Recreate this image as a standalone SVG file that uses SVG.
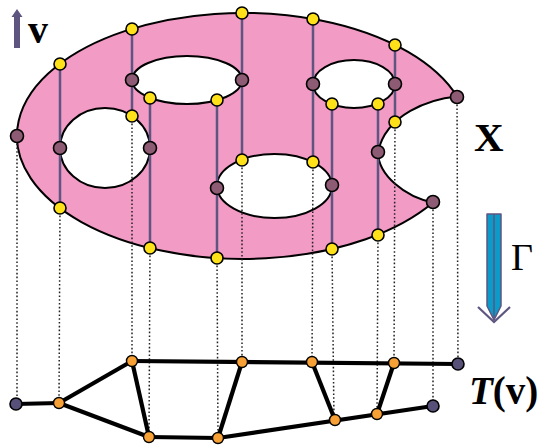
<svg xmlns="http://www.w3.org/2000/svg" width="542" height="445" viewBox="0 0 542 445">
<style>
.shape{fill:#f19bc5;stroke:#000;stroke-width:2}
.hole{fill:#fff;stroke:#000;stroke-width:2}
.pl{stroke:#5f5581;stroke-width:2.5;fill:none}
.dot{stroke:#222;stroke-width:1.5;stroke-dasharray:1.6 2.2;fill:none}
.edge{stroke:#000;stroke-width:4.2;fill:none;stroke-linejoin:round}
.y{fill:#ffe11a;stroke:#000;stroke-width:1.6}
.m{fill:#8e5b74;stroke:#000;stroke-width:1.6}
.o{fill:#f7a035;stroke:#000;stroke-width:1.4}
.d{fill:#575079;stroke:#000;stroke-width:1.6}
.lbl{font-family:"Liberation Serif","Times New Roman",serif;fill:#000}
</style>
<g id="space-X">
<path class="shape" d="M457,96.5 A226,123 0 1 0 433,202.5 C405,197 378,175 378,152 C386,114 430,99 457,96.5 Z"/>
<ellipse class="hole" cx="105" cy="148" rx="45" ry="40"/>
<ellipse class="hole" cx="187" cy="80" rx="55" ry="24"/>
<ellipse class="hole" cx="354" cy="84" rx="41" ry="24"/>
<ellipse class="hole" cx="274.5" cy="186" rx="57.5" ry="32"/>
</g>
<g id="fibres">
<line class="pl" x1="60" y1="64" x2="60" y2="208"/>
<line class="pl" x1="132" y1="29" x2="132" y2="116"/>
<line class="pl" x1="150" y1="98" x2="150" y2="248"/>
<line class="pl" x1="242" y1="13" x2="242" y2="160"/>
<line class="pl" x1="217" y1="100" x2="217" y2="258"/>
<line class="pl" x1="313" y1="19" x2="313" y2="162"/>
<line class="pl" x1="332" y1="104" x2="332" y2="249"/>
<line class="pl" x1="395" y1="45" x2="395" y2="122"/>
<line class="pl" x1="378" y1="104" x2="378" y2="235"/>
</g>
<g id="connectors">
<line class="dot" x1="17" y1="136" x2="17" y2="404"/>
<line class="dot" x1="60" y1="208" x2="59" y2="403"/>
<line class="dot" x1="132" y1="116" x2="132" y2="361"/>
<line class="dot" x1="150" y1="248" x2="149" y2="437"/>
<line class="dot" x1="217" y1="258" x2="218" y2="438"/>
<line class="dot" x1="242" y1="160" x2="242" y2="362"/>
<line class="dot" x1="313" y1="162" x2="312" y2="362"/>
<line class="dot" x1="332" y1="249" x2="334" y2="420"/>
<line class="dot" x1="378" y1="235" x2="377" y2="414"/>
<line class="dot" x1="395" y1="122" x2="394" y2="363"/>
<line class="dot" x1="433" y1="202" x2="433" y2="406"/>
<line class="dot" x1="457" y1="97" x2="458" y2="364"/>
</g>
<g id="graph-edges">
<line class="edge" x1="16" y1="404" x2="59" y2="403"/>
<line class="edge" x1="59" y1="403" x2="132" y2="361"/>
<line class="edge" x1="59" y1="403" x2="149" y2="437"/>
<line class="edge" x1="132" y1="361" x2="458" y2="364"/>
<line class="edge" x1="132" y1="361" x2="149" y2="437"/>
<line class="edge" x1="149" y1="437" x2="218" y2="438"/>
<line class="edge" x1="218" y1="438" x2="242" y2="362"/>
<line class="edge" x1="218" y1="438" x2="433" y2="406"/>
<line class="edge" x1="312" y1="362" x2="335" y2="420"/>
<line class="edge" x1="394" y1="363" x2="377" y2="414"/>
</g>
<g id="nodes-X">
<circle id="x17" class="m" cx="17" cy="136" r="6.5"/>
<circle id="x60a" class="y" cx="60" cy="64" r="6"/>
<circle id="x60b" class="m" cx="60" cy="148" r="6.5"/>
<circle id="x60c" class="y" cx="60" cy="208" r="6"/>
<circle id="x132a" class="y" cx="132" cy="29" r="6"/>
<circle id="x132b" class="m" cx="132" cy="80" r="6.5"/>
<circle id="x132c" class="y" cx="132" cy="116" r="6"/>
<circle id="x150a" class="y" cx="150" cy="98" r="6"/>
<circle id="x150b" class="m" cx="150" cy="148" r="6.5"/>
<circle id="x150c" class="y" cx="150" cy="248" r="6"/>
<circle id="x242a" class="y" cx="242" cy="13" r="6"/>
<circle id="x242b" class="m" cx="242" cy="80" r="6.5"/>
<circle id="x242c" class="y" cx="242" cy="160" r="6"/>
<circle id="x217a" class="y" cx="217" cy="100" r="6"/>
<circle id="x217b" class="m" cx="217" cy="188" r="6.5"/>
<circle id="x217c" class="y" cx="217" cy="258" r="6"/>
<circle id="x313a" class="y" cx="313" cy="19" r="6"/>
<circle id="x313b" class="m" cx="313" cy="84" r="6.5"/>
<circle id="x313c" class="y" cx="313" cy="162" r="6"/>
<circle id="x332a" class="y" cx="332" cy="104" r="6"/>
<circle id="x332b" class="m" cx="332" cy="185" r="6.5"/>
<circle id="x332c" class="y" cx="332" cy="249" r="6"/>
<circle id="x395a" class="y" cx="395" cy="45" r="6"/>
<circle id="x395b" class="m" cx="395" cy="84" r="6.5"/>
<circle id="x395c" class="y" cx="395" cy="122" r="6"/>
<circle id="x378a" class="y" cx="378" cy="104" r="6"/>
<circle id="x378b" class="m" cx="378" cy="152" r="6.5"/>
<circle id="x378c" class="y" cx="378" cy="235" r="6"/>
<circle id="x433" class="m" cx="433" cy="202" r="6.5"/>
<circle id="x457" class="m" cx="457" cy="97" r="6.5"/>
</g>
<g id="nodes-T">
<circle id="t1" class="d" cx="16" cy="404" r="6"/>
<circle id="t2" class="o" cx="59" cy="403" r="5.5"/>
<circle id="t3" class="o" cx="132" cy="361" r="5.5"/>
<circle id="t4" class="o" cx="242" cy="362" r="5.5"/>
<circle id="t5" class="o" cx="312" cy="362" r="5.5"/>
<circle id="t6" class="o" cx="394" cy="363" r="5.5"/>
<circle id="t7" class="d" cx="458" cy="364" r="6"/>
<circle id="t8" class="o" cx="149" cy="437" r="5.5"/>
<circle id="t9" class="o" cx="218" cy="438" r="5.5"/>
<circle id="t10" class="o" cx="335" cy="420" r="5.5"/>
<circle id="t11" class="o" cx="377" cy="414" r="5.5"/>
<circle id="t12" class="d" cx="433" cy="406" r="6"/>
</g>
<g id="v-arrow">
<path d="M14,48 V17 H11.5 L17,9 L22.5,17 H20 V48 Z" fill="#5f5581"/>
<text class="lbl" x="28" y="43" font-size="40" font-weight="bold">v</text>
</g>
<text class="lbl" x="474" y="151" font-size="41" font-weight="bold">X</text>
<g id="gamma-arrow">
<path d="M487,214 H501 V306 L494,320 L487,306 Z" fill="#0b9bc8" stroke="#5f5581" stroke-width="1.5" stroke-linejoin="round"/>
<line x1="494" y1="214" x2="494" y2="318" stroke="#5f5581" stroke-width="1.5"/>
<polyline points="478,307 494,322 510,307" fill="none" stroke="#5f5581" stroke-width="2.2"/>
<text class="lbl" x="511" y="270" font-size="38">Γ</text>
</g>
<text class="lbl" x="469" y="404" font-size="39" font-weight="bold"><tspan font-style="italic">T</tspan>(v)</text>
</svg>
